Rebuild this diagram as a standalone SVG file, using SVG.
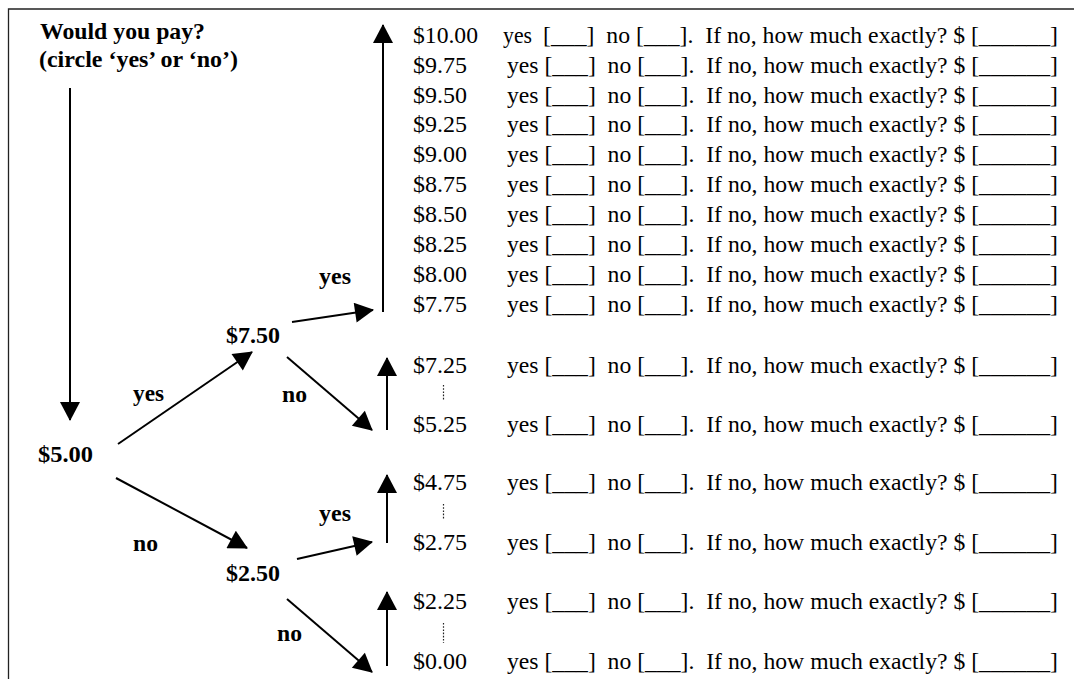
<svg xmlns="http://www.w3.org/2000/svg" width="1074" height="679" viewBox="0 0 1074 679">
<style>
.b{font-family:"Liberation Serif","Times New Roman",serif;font-size:24px;font-weight:bold;fill:#000}
.t{font-family:"Liberation Serif","Times New Roman",serif;font-size:24px;fill:#000;white-space:pre}
.c{stroke:#000;stroke-width:2;fill:none;marker-end:url(#ah)}
.d{stroke:#222;stroke-width:1.2;stroke-dasharray:1.6 1.6}
.f{stroke:#222;stroke-width:1.3;fill:none}
</style>
<defs>
<marker id="ah" markerUnits="userSpaceOnUse" markerWidth="20" markerHeight="20" viewBox="0 0 19 20" refX="18" refY="10" orient="auto"><path d="M0,0 L19,10 L0,20 z" fill="#000"/></marker>
</defs>
<rect width="1074" height="679" fill="#fff"/>
<path class="f" d="M8.5,679 V9 H1074"/>
<g id="title">
<text class="b" x="40" y="39" textLength="165" lengthAdjust="spacingAndGlyphs">Would you pay?</text>
<text class="b" x="39" y="67" textLength="199" lengthAdjust="spacingAndGlyphs">(circle ‘yes’ or ‘no’)</text>
</g>
<g id="n500"><text class="b" x="38" y="462" textLength="55" lengthAdjust="spacingAndGlyphs">$5.00</text></g>
<g id="n750"><text class="b" x="226" y="343" textLength="54" lengthAdjust="spacingAndGlyphs">$7.50</text></g>
<g id="n250"><text class="b" x="226" y="581" textLength="54" lengthAdjust="spacingAndGlyphs">$2.50</text></g>
<g id="labels">
<text class="b" x="133" y="401" textLength="31" lengthAdjust="spacingAndGlyphs">yes</text>
<text class="b" x="282" y="402" textLength="25" lengthAdjust="spacingAndGlyphs">no</text>
<text class="b" x="133" y="551" textLength="25" lengthAdjust="spacingAndGlyphs">no</text>
<text class="b" x="319" y="521" textLength="32" lengthAdjust="spacingAndGlyphs">yes</text>
<text class="b" x="277" y="641" textLength="25" lengthAdjust="spacingAndGlyphs">no</text>
<text class="b" x="319" y="284" textLength="32" lengthAdjust="spacingAndGlyphs">yes</text>
</g>
<g id="connectors">
<line class="c" x1="70" y1="88" x2="70" y2="420"/>
<line class="c" x1="383" y1="312" x2="383" y2="25"/>
<line class="c" x1="292" y1="322" x2="373" y2="310"/>
<line class="c" x1="118" y1="444" x2="252" y2="352"/>
<line class="c" x1="287" y1="357" x2="372" y2="430"/>
<line class="c" x1="387" y1="430" x2="387" y2="358"/>
<line class="c" x1="116" y1="478" x2="247" y2="548"/>
<line class="c" x1="387" y1="543" x2="387" y2="475"/>
<line class="c" x1="297" y1="559" x2="372" y2="542"/>
<line class="c" x1="387" y1="666" x2="387" y2="592"/>
<line class="c" x1="287" y1="599" x2="372" y2="672"/>
<line class="d" x1="443.5" y1="385" x2="443.5" y2="401"/>
<line class="d" x1="443.5" y1="504" x2="443.5" y2="520"/>
<line class="d" x1="443.5" y1="623" x2="443.5" y2="643"/>
</g>
<g id="rows">
<g id="row1000"><text class="t" x="413" y="42.7" textLength="65" lengthAdjust="spacingAndGlyphs">$10.00</text><text class="t" x="503" y="42.7" textLength="29" lengthAdjust="spacingAndGlyphs">yes</text><text class="t" x="543" y="42.7" textLength="515" lengthAdjust="spacingAndGlyphs">[___]  no [___].  If no, how much exactly? $ [______]</text></g>
<g id="row975"><text class="t" x="413" y="72.6" textLength="54" lengthAdjust="spacingAndGlyphs">$9.75</text><text class="t" x="507" y="72.6" textLength="551" lengthAdjust="spacingAndGlyphs">yes [___]  no [___].  If no, how much exactly? $ [______]</text></g>
<g id="row950"><text class="t" x="413" y="102.5" textLength="54" lengthAdjust="spacingAndGlyphs">$9.50</text><text class="t" x="507" y="102.5" textLength="551" lengthAdjust="spacingAndGlyphs">yes [___]  no [___].  If no, how much exactly? $ [______]</text></g>
<g id="row925"><text class="t" x="413" y="132.4" textLength="54" lengthAdjust="spacingAndGlyphs">$9.25</text><text class="t" x="507" y="132.4" textLength="551" lengthAdjust="spacingAndGlyphs">yes [___]  no [___].  If no, how much exactly? $ [______]</text></g>
<g id="row900"><text class="t" x="413" y="162.3" textLength="54" lengthAdjust="spacingAndGlyphs">$9.00</text><text class="t" x="507" y="162.3" textLength="551" lengthAdjust="spacingAndGlyphs">yes [___]  no [___].  If no, how much exactly? $ [______]</text></g>
<g id="row875"><text class="t" x="413" y="192.2" textLength="54" lengthAdjust="spacingAndGlyphs">$8.75</text><text class="t" x="507" y="192.2" textLength="551" lengthAdjust="spacingAndGlyphs">yes [___]  no [___].  If no, how much exactly? $ [______]</text></g>
<g id="row850"><text class="t" x="413" y="222.1" textLength="54" lengthAdjust="spacingAndGlyphs">$8.50</text><text class="t" x="507" y="222.1" textLength="551" lengthAdjust="spacingAndGlyphs">yes [___]  no [___].  If no, how much exactly? $ [______]</text></g>
<g id="row825"><text class="t" x="413" y="252" textLength="54" lengthAdjust="spacingAndGlyphs">$8.25</text><text class="t" x="507" y="252" textLength="551" lengthAdjust="spacingAndGlyphs">yes [___]  no [___].  If no, how much exactly? $ [______]</text></g>
<g id="row800"><text class="t" x="413" y="281.9" textLength="54" lengthAdjust="spacingAndGlyphs">$8.00</text><text class="t" x="507" y="281.9" textLength="551" lengthAdjust="spacingAndGlyphs">yes [___]  no [___].  If no, how much exactly? $ [______]</text></g>
<g id="row775"><text class="t" x="413" y="311.8" textLength="54" lengthAdjust="spacingAndGlyphs">$7.75</text><text class="t" x="507" y="311.8" textLength="551" lengthAdjust="spacingAndGlyphs">yes [___]  no [___].  If no, how much exactly? $ [______]</text></g>
<g id="row725"><text class="t" x="413" y="372.5" textLength="54" lengthAdjust="spacingAndGlyphs">$7.25</text><text class="t" x="507" y="372.5" textLength="551" lengthAdjust="spacingAndGlyphs">yes [___]  no [___].  If no, how much exactly? $ [______]</text></g>
<g id="row525"><text class="t" x="413" y="431.5" textLength="54" lengthAdjust="spacingAndGlyphs">$5.25</text><text class="t" x="507" y="431.5" textLength="551" lengthAdjust="spacingAndGlyphs">yes [___]  no [___].  If no, how much exactly? $ [______]</text></g>
<g id="row475"><text class="t" x="413" y="490" textLength="54" lengthAdjust="spacingAndGlyphs">$4.75</text><text class="t" x="507" y="490" textLength="551" lengthAdjust="spacingAndGlyphs">yes [___]  no [___].  If no, how much exactly? $ [______]</text></g>
<g id="row275"><text class="t" x="413" y="550" textLength="54" lengthAdjust="spacingAndGlyphs">$2.75</text><text class="t" x="507" y="550" textLength="551" lengthAdjust="spacingAndGlyphs">yes [___]  no [___].  If no, how much exactly? $ [______]</text></g>
<g id="row225"><text class="t" x="413" y="609" textLength="54" lengthAdjust="spacingAndGlyphs">$2.25</text><text class="t" x="507" y="609" textLength="551" lengthAdjust="spacingAndGlyphs">yes [___]  no [___].  If no, how much exactly? $ [______]</text></g>
<g id="row000"><text class="t" x="413" y="669" textLength="54" lengthAdjust="spacingAndGlyphs">$0.00</text><text class="t" x="507" y="669" textLength="551" lengthAdjust="spacingAndGlyphs">yes [___]  no [___].  If no, how much exactly? $ [______]</text></g>
</g>
</svg>
